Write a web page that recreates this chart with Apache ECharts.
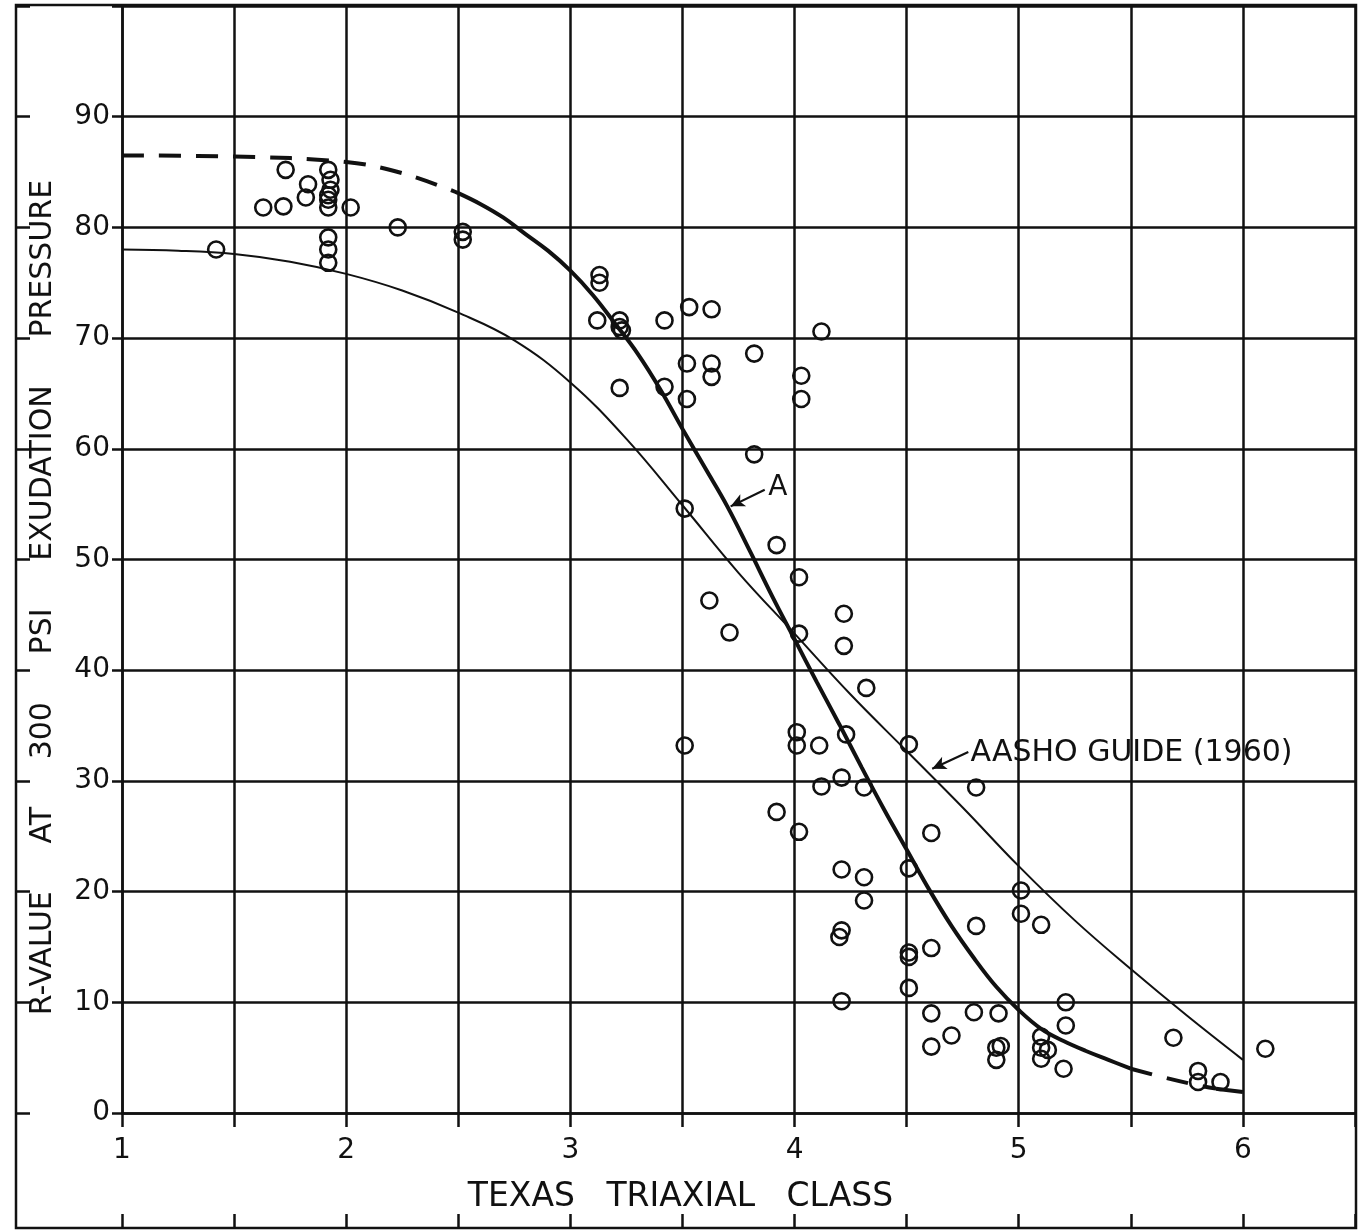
<!DOCTYPE html>
<html><head><meta charset="utf-8">
<script src="https://cdn.jsdelivr.net/npm/echarts@6/dist/echarts.min.js"></script>
<style>html,body{margin:0;padding:0;background:#fff}#c{width:1368px;height:1232px}</style>
</head><body><div id="c"></div>
<script>
// ---- text ----
const xTitle = 'TEXAS   TRIAXIAL   CLASS';
const yTitle = 'R-VALUE     AT     300     PSI     EXUDATION     PRESSURE';
const noteAText = 'A';
const noteAashoText = 'AASHO GUIDE (1960)';

// ---- axis ranges ----
const xMin = 1, xMax = 6.5, xStep = 0.5;
const yMin = 0, yMax = 100, yStep = 10;

// ---- observed points [texas triaxial class, R-value] ----
const points = [
  [1.42,78.0],[1.63,81.8],[1.72,81.9],[1.73,85.2],[1.82,82.7],[1.83,83.9],
  [1.92,85.2],[1.93,84.3],[1.93,83.4],[1.92,82.9],[1.92,82.5],[1.92,81.8],
  [1.92,79.1],[1.92,78.0],[1.92,76.8],[2.02,81.8],[2.23,80.0],[2.52,79.6],[2.52,78.9],
  [3.13,75.7],[3.13,75.0],[3.12,71.6],[3.22,71.6],[3.22,71.0],[3.23,70.7],
  [3.42,71.6],[3.53,72.8],[3.63,72.6],[4.12,70.6],[3.22,65.5],[3.42,65.6],
  [3.52,67.7],[3.63,67.7],[3.63,66.5],[3.52,64.5],[3.82,68.6],[4.03,66.6],[4.03,64.5],
  [3.82,59.5],[3.51,54.6],[3.92,51.3],[4.02,48.4],[3.62,46.3],[3.71,43.4],
  [4.02,43.3],[4.22,45.1],[4.22,42.2],[4.32,38.4],[3.51,33.2],
  [4.01,34.4],[4.01,33.2],[4.11,33.2],[4.23,34.2],[4.51,33.3],
  [4.21,30.3],[4.12,29.5],[4.31,29.4],[4.81,29.4],[3.92,27.2],[4.02,25.4],[4.61,25.3],
  [4.21,22.0],[4.31,21.3],[4.51,22.1],[4.31,19.2],[5.01,20.1],[5.01,18.0],[5.10,17.0],
  [4.81,16.9],[4.21,16.5],[4.20,15.9],[4.51,14.5],[4.51,14.1],[4.61,14.9],[4.51,11.3],
  [4.21,10.1],[4.61,9.0],[4.80,9.1],[4.91,9.0],[5.21,10.0],[5.21,7.9],[4.70,7.0],
  [4.61,6.0],[4.90,5.9],[4.92,6.05],[4.90,4.8],[5.10,6.9],[5.10,5.9],[5.13,5.7],
  [5.10,4.9],[5.20,4.0],[5.69,6.8],[5.80,3.8],[5.80,2.8],[5.90,2.8],[6.10,5.8]
];

// ---- curve A (heavy line) ----
const curveADashedStart = [[1.0,86.5],[1.5,86.4],[2.0,85.9],[2.25,84.9],[2.5,83.1]];
const curveASolid = [
  [2.5,83.1],[2.6,82.1],[2.7,80.9],[2.8,79.4],[2.9,77.9],[3.0,76.1],[3.1,73.9],
  [3.2,71.3],[3.3,68.6],[3.4,65.4],[3.5,61.8],[3.6,58.3],[3.7,54.8],[3.8,50.8],
  [3.9,46.7],[4.0,42.8],[4.1,38.9],[4.2,35.1],[4.3,31.2],[4.4,27.4],[4.5,23.8],
  [4.6,20.2],[4.7,16.9],[4.8,14.0],[4.9,11.4],[5.0,9.3],[5.1,7.6],[5.2,6.5],
  [5.3,5.6],[5.4,4.8],[5.5,4.0]
];
const curveADashedEnd = [[5.5,4.0],[5.65,3.2],[5.8,2.5],[5.88,2.2]];
const curveATail = [[5.88,2.2],[6.0,1.9]];

// ---- AASHO Guide (1960) curve (light line) ----
const aashoCurve = [
  [1.0,78.0],[1.25,77.9],[1.5,77.6],[1.75,76.9],[2.0,75.8],[2.25,74.3],[2.5,72.3],
  [2.75,69.8],[3.0,66.0],[3.25,60.9],[3.5,54.9],[3.75,48.8],[4.0,43.3],[4.25,37.8],
  [4.5,32.7],[4.75,27.6],[5.0,22.3],[5.25,17.4],[5.5,13.0],[5.75,8.8],[6.0,4.8]
];

// ---- annotation anchors (data coordinates) ----
const noteAAt = [3.925,56.5];
const noteAArrow = [[3.867,56.3],[3.715,54.8]];
const noteAashoAt = [4.785,32.5];
const noteAashoArrow = [[4.775,32.6],[4.614,31.1]];

const INK = '#111';
const FONT = 'DejaVu Sans';

const chart = echarts.init(document.getElementById('c'), null, {renderer:'canvas'});
const lineSeries = (data, width, dashed) => ({
  type:'line', data, xAxisIndex:0, yAxisIndex:0, symbol:'none', smooth:0.4,
  lineStyle:{color:INK, width, type: dashed ? [22,15] : 'solid', cap:'butt'},
  silent:true, z:3
});

chart.setOption({
  animation:false,
  backgroundColor:'#fff',
  graphic:[{type:'rect', shape:{x:16,y:5,width:1340,height:1223},
            style:{fill:'none', stroke:INK, lineWidth:2.5}, z:10}],
  grid:[
    {left:122, right:13, top:6, bottom:119},
    {left:122, right:13, top:6, bottom:4},
    {left:16, width:60, top:6, bottom:119}
  ],
  xAxis:[
    {gridIndex:0, type:'value', min:xMin, max:xMax, interval:xStep,
     name:xTitle, nameLocation:'middle', nameGap:68,
     nameTextStyle:{fontFamily:FONT, fontSize:33, color:INK, padding:[0,116,0,0]},
     axisLine:{onZero:false, lineStyle:{color:INK, width:2.5}},
     axisTick:{show:true, length:14, lineStyle:{color:INK, width:2.5}},
     axisLabel:{margin:24, fontFamily:FONT, fontSize:28, color:INK,
       formatter:v => (Number.isInteger(v) && v <= 6) ? String(v) : ''},
     splitLine:{show:true, lineStyle:{color:INK, width:2.5}}},
    {gridIndex:1, type:'value', min:xMin, max:xMax, interval:xStep, position:'bottom',
     axisLine:{show:false}, axisLabel:{show:false}, splitLine:{show:false},
     axisTick:{show:true, inside:true, length:14, lineStyle:{color:INK, width:2.5}}},
    {gridIndex:2, type:'value', show:false, min:0, max:1}
  ],
  yAxis:[
    {gridIndex:0, type:'value', min:yMin, max:yMax, interval:yStep,
     axisLine:{show:true, onZero:false, lineStyle:{color:INK, width:2.5}},
     axisTick:{show:true, length:10, lineStyle:{color:INK, width:2.5}},
     axisLabel:{margin:12, fontFamily:FONT, fontSize:28, color:INK,
       formatter:v => v >= 100 ? '' : String(v)},
     splitLine:{show:true, lineStyle:{color:INK, width:2.5}}},
    {gridIndex:1, type:'value', show:false, min:0, max:1},
    {gridIndex:2, type:'value', min:yMin, max:yMax, interval:yStep, position:'left',
     name:yTitle, nameLocation:'middle', nameGap:-42, nameRotate:90,
     nameTextStyle:{fontFamily:FONT, fontSize:30, color:INK, padding:[0,76,0,0]},
     axisLine:{show:false}, axisLabel:{show:false}, splitLine:{show:false},
     axisTick:{show:true, inside:true, length:14, lineStyle:{color:INK, width:2.5}}}
  ],
  series:[
    lineSeries(aashoCurve, 2, false),
    lineSeries(curveADashedStart, 4, true),
    lineSeries(curveASolid, 4, false),
    lineSeries(curveADashedEnd, 4, true),
    lineSeries(curveATail, 4, false),
    {type:'scatter', data:points, symbol:'circle', symbolSize:16, silent:true, z:4,
     itemStyle:{color:'rgba(0,0,0,0)', borderColor:INK, borderWidth:2.6, opacity:1}},
    {type:'scatter', silent:true, z:5, symbolSize:0, itemStyle:{opacity:1},
     data:[
       {value:noteAAt, label:{show:true, formatter:noteAText, position:'inside',
         fontFamily:FONT, fontSize:28, color:INK}},
       {value:noteAashoAt, label:{show:true, formatter:noteAashoText, position:'right', distance:0,
         fontFamily:FONT, fontSize:30, color:INK}}
     ],
     markLine:{silent:true, symbol:['none','arrow'], symbolSize:[10,14], label:{show:false},
       lineStyle:{color:INK, width:2.2, type:'solid', opacity:1},
       data:[
         [{coord:noteAArrow[0]},{coord:noteAArrow[1]}],
         [{coord:noteAashoArrow[0]},{coord:noteAashoArrow[1]}]
       ]}}
  ]
});
</script></body></html>
